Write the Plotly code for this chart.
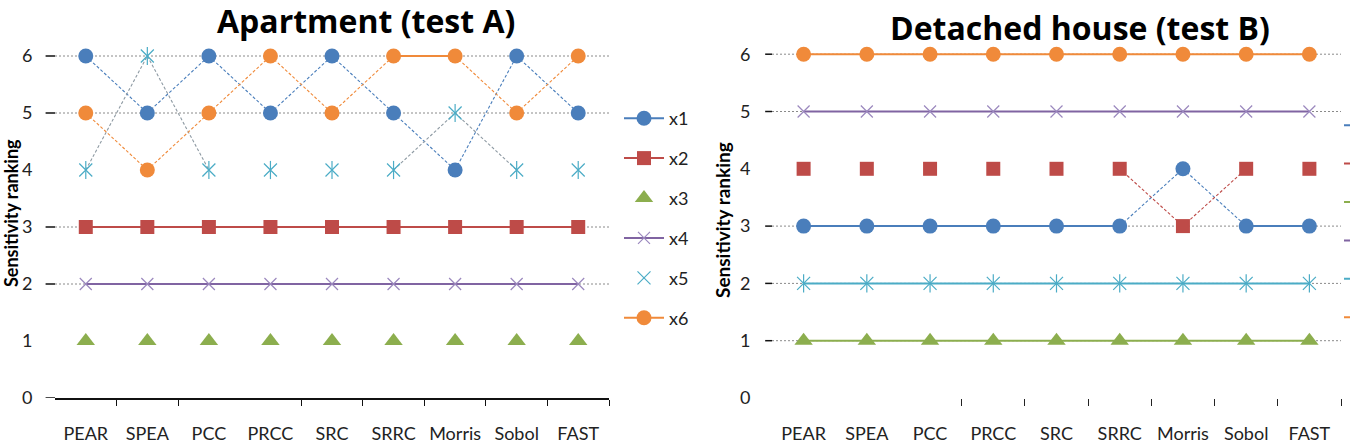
import plotly.graph_objects as go

# ---------------- data ----------------
categories = ["PEAR", "SPEA", "PCC", "PRCC", "SRC", "SRRC", "Morris", "Sobol", "FAST"]
series_names = ["x1", "x2", "x3", "x4", "x5", "x6"]
y_ticks = [0, 1, 2, 3, 4, 5, 6]

# Apartment (test A)
a_x1 = [6, 5, 6, 5, 6, 5, 4, 6, 5]
a_x2 = [3, 3, 3, 3, 3, 3, 3, 3, 3]
a_x3 = [1, 1, 1, 1, 1, 1, 1, 1, 1]
a_x4 = [2, 2, 2, 2, 2, 2, 2, 2, 2]
a_x5 = [4, 6, 4, 4, 4, 4, 5, 4, 4]
a_x6 = [5, 4, 5, 6, 5, 6, 6, 5, 6]

# Detached house (test B)
b_x1 = [3, 3, 3, 3, 3, 3, 4, 3, 3]
b_x2 = [4, 4, 4, 4, 4, 4, 3, 4, 4]
b_x3 = [1, 1, 1, 1, 1, 1, 1, 1, 1]
b_x4 = [5, 5, 5, 5, 5, 5, 5, 5, 5]
b_x5 = [2, 2, 2, 2, 2, 2, 2, 2, 2]
b_x6 = [6, 6, 6, 6, 6, 6, 6, 6, 6]

data_a = [a_x1, a_x2, a_x3, a_x4, a_x5, a_x6]
data_b = [b_x1, b_x2, b_x3, b_x4, b_x5, b_x6]

# visible gridline levels / visible x tick boundaries (as seen in the picture)
grid_a = [2, 3, 5, 6]
dash_a = [0, 2, 3, 5, 6]
grid_b = [1, 2, 3, 5, 6]
dash_b = [1, 2, 3, 5, 6]
xtick_bounds_a = [0.5, 1.5, 3.5, 4.5, 5.5, 6.5, 7.5, 8.5]
xtick_bounds_b = [2.5, 3.5, 4.5, 5.5, 6.5, 7.5, 8.5]

# ---------------- styles ----------------
FONT = "Lato, 'Open Sans', sans-serif"
TFONT = "'Open Sans', Lato, sans-serif"
col = {"x1": "#4A7EBB", "x2": "#BE4B48", "x3": "#8CAE4E",
       "x4": "#8064A2", "x5": "#4BACC6", "x6": "#F08A3A"}
sym = {"x1": "circle", "x2": "square", "x3": "triangle-up",
       "x4": "x-thin", "x5": "x-thin", "x6": "circle"}
msize = {"x1": 15, "x2": 14, "x3": 16, "x4": 12, "x5": 13, "x6": 15}
# (flat line shown?, slope line colour or None)
style_a = {"x1": (True, col["x1"]), "x2": (True, None), "x3": (False, None),
           "x4": (True, None), "x5": (False, "#8E9AA3"), "x6": (True, col["x6"])}
style_b = {"x1": (True, col["x1"]), "x2": (False, col["x2"]), "x3": (True, None),
           "x4": (True, None), "x5": (True, None), "x6": (True, None)}

fig = go.Figure()


def segments(vals, flat):
    xs, ys = [], []
    for i in range(len(vals) - 1):
        if (vals[i] == vals[i + 1]) == flat:
            xs += [categories[i], categories[i + 1], categories[i + 1]]
            ys += [vals[i], vals[i + 1], None]
    return xs, ys


def add_series(name, vals, style, xa, ya, legend, legend_label):
    flat, slope_col = style[name]
    if slope_col:
        xs, ys = segments(vals, False)
        if xs:
            fig.add_trace(go.Scatter(x=xs, y=ys, mode="lines", xaxis=xa, yaxis=ya,
                                     line=dict(color=slope_col, width=1.1, dash="3px,2px"),
                                     showlegend=False, hoverinfo="skip", connectgaps=False))
    if flat:
        xs, ys = segments(vals, True)
        if xs:
            fig.add_trace(go.Scatter(x=xs, y=ys, mode="lines", xaxis=xa, yaxis=ya,
                                     line=dict(color=col[name], width=2),
                                     showlegend=False, hoverinfo="skip", connectgaps=False))
    mk = dict(symbol=sym[name], size=msize[name], color=col[name])
    if sym[name] == "x-thin":
        mk["line"] = dict(color=col[name] if name == "x5" else "#9B88BE", width=1.2)
    fig.add_trace(go.Scatter(x=categories, y=vals, mode="markers", xaxis=xa, yaxis=ya,
                             marker=mk, showlegend=False, name=name))
    if name == "x5":
        fig.add_trace(go.Scatter(x=categories, y=vals, mode="markers", xaxis=xa, yaxis=ya,
                                 marker=dict(symbol="line-ns", size=msize[name],
                                             line=dict(color=col[name], width=1.2)),
                                 showlegend=False, hoverinfo="skip"))
    # legend entry
    leg_mode = "markers" if (not flat and legend == "legend") else "lines+markers"
    fig.add_trace(go.Scatter(x=[None], y=[None], mode=leg_mode, xaxis=xa, yaxis=ya,
                             marker=dict(mk), line=dict(color=col[name], width=2),
                             name=legend_label, legend=legend, legendgroup=legend + name,
                             showlegend=True, hoverinfo="skip"))


for n, v in zip(series_names, data_a):
    add_series(n, v, style_a, "x", "y", "legend", n)
# the second chart's legend is cut off by the right edge of the picture
for n, v in zip(series_names, data_b):
    add_series(n, v, style_b, "x2", "y2", "legend2", " ")

# ---------------- gridlines & y tick dashes ----------------
shapes = []
for lvl in grid_a:
    shapes.append(dict(type="line", xref="x domain", yref="y", x0=0, x1=1, y0=lvl, y1=lvl,
                       line=dict(color="#8a8a8a", width=1, dash="2px,2px"), layer="below"))
for lvl in dash_a:
    shapes.append(dict(type="line", xref="x domain", yref="y", x0=-0.017, x1=0, y0=lvl, y1=lvl,
                       line=dict(color="#111", width=1.5), layer="below"))
for lvl in grid_b:
    shapes.append(dict(type="line", xref="x2 domain", yref="y2", x0=0, x1=1, y0=lvl, y1=lvl,
                       line=dict(color="#8a8a8a", width=1, dash="2px,2px"), layer="below"))
for lvl in dash_b:
    shapes.append(dict(type="line", xref="x2 domain", yref="y2", x0=-0.012, x1=0, y0=lvl, y1=lvl,
                       line=dict(color="#111", width=1.5), layer="below"))

W, H = 1350, 444


def px(xp):
    return xp / W


def py(yp):
    return (H - yp) / H


tickfont = dict(family=FONT, size=18, color="#222")
xcommon = dict(type="category", categoryorder="array", categoryarray=categories,
               range=[-0.5, 8.5], showgrid=False, zeroline=False, showline=False,
               ticks="outside", ticklen=19, tickcolor="rgba(0,0,0,0)", tickfont=tickfont)
ycommon = dict(range=[0, 6.3], tickvals=y_ticks, showgrid=False, zeroline=False,
               showline=False, ticks="outside", tickcolor="rgba(0,0,0,0)", tickfont=tickfont)

fig.update_layout(
    width=W, height=H,
    margin=dict(l=0, r=0, t=0, b=0, autoexpand=False),
    paper_bgcolor="white", plot_bgcolor="rgba(0,0,0,0)",
    font=dict(family=FONT),
    xaxis=dict(domain=[px(55), px(609)], anchor="y", **xcommon),
    yaxis=dict(domain=[py(398), py(398 - 6.3 * 57)], anchor="x", ticklen=18, **ycommon),
    xaxis2=dict(domain=[px(772), px(1341)], anchor="y2", **xcommon),
    yaxis2=dict(domain=[py(398), py(398 - 6.3 * 57.3)], anchor="x2", ticklen=17, **ycommon),
    xaxis3=dict(overlaying="x", anchor="y", range=[-0.5, 8.5], tickvals=xtick_bounds_a,
                showticklabels=False, ticks="outside", ticklen=6, tickcolor="#111", tickwidth=1,
                showline=True, linecolor="#111", linewidth=1.5, showgrid=False, zeroline=False),
    xaxis4=dict(overlaying="x2", anchor="y2", range=[-0.5, 8.5], tickvals=xtick_bounds_b,
                showticklabels=False, ticks="outside", ticklen=7, tickcolor="#222", tickwidth=1,
                showline=False, showgrid=False, zeroline=False),
    legend=dict(x=px(619), y=py(100), xanchor="left", yanchor="top",
                font=dict(family=FONT, size=18, color="#222"), bgcolor="rgba(0,0,0,0)",
                tracegroupgap=13.5, itemwidth=40),
    legend2=dict(x=px(1339), y=py(107), xanchor="left", yanchor="top",
                 font=dict(family=FONT, size=18, color="#222"), bgcolor="rgba(0,0,0,0)",
                 tracegroupgap=12, itemwidth=40),
    shapes=shapes,
    annotations=[
        dict(text="Apartment (test A)", x=px(366), y=py(21), xref="paper", yref="paper",
             xanchor="center", yanchor="middle", showarrow=False,
             font=dict(family=TFONT, size=32, color="#000", weight="bold")),
        dict(text="Detached house (test B)", x=px(1080), y=py(27), xref="paper", yref="paper",
             xanchor="center", yanchor="middle", showarrow=False,
             font=dict(family=TFONT, size=32, color="#000", weight="bold")),
        dict(text="Sensitivity ranking", x=px(11), y=py(213), xref="paper", yref="paper",
             xanchor="center", yanchor="middle", showarrow=False, textangle=-90,
             font=dict(family=FONT, size=18, color="#000", weight="bold")),
        dict(text="Sensitivity ranking", x=px(722), y=py(220), xref="paper", yref="paper",
             xanchor="center", yanchor="middle", showarrow=False, textangle=-90,
             font=dict(family=FONT, size=19, color="#000", weight="bold")),
    ],
)

# invisible traces so the overlay tick axes are drawn
fig.add_trace(go.Scatter(x=[None], y=[None], xaxis="x3", yaxis="y", showlegend=False))
fig.add_trace(go.Scatter(x=[None], y=[None], xaxis="x4", yaxis="y2", showlegend=False))

fig.write_html("out.html")
